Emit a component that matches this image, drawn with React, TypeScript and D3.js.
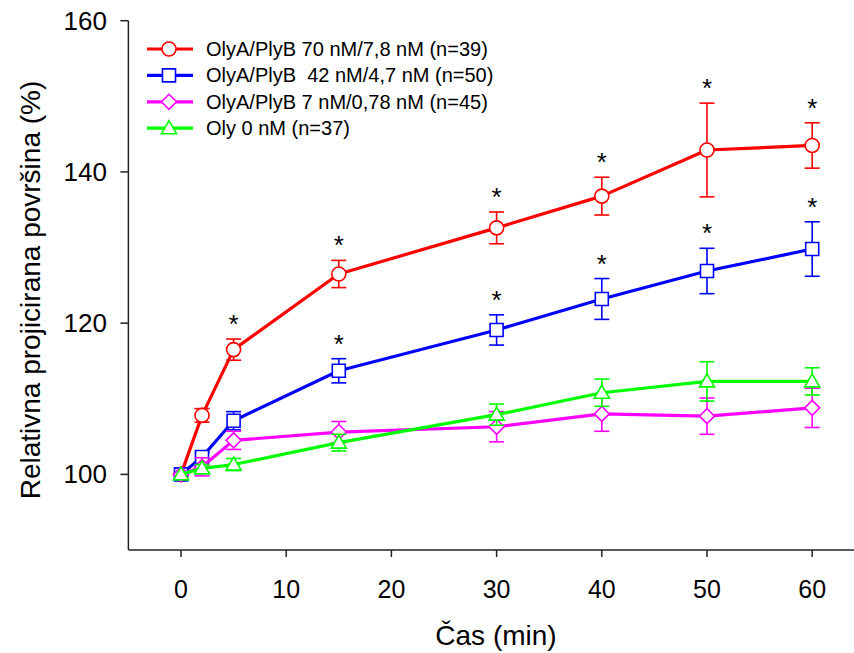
import React from "react";
import * as d3 from "d3";

const times = [0, 2, 5, 15, 30, 40, 50, 60];
const redVals = [100, 107.8, 116.5, 126.5, 132.6, 136.8, 142.9, 143.5];
const redErr = [0, 0.9, 1.4, 1.8, 2.1, 2.5, 6.2, 3.0];
const redSig = [0, 0, 1, 1, 1, 1, 1, 1];
const blueVals = [100, 102.3, 107.1, 113.7, 119.1, 123.2, 126.9, 129.8];
const blueErr = [0, 0.6, 1.2, 1.6, 2.0, 2.7, 3.0, 3.6];
const blueSig = [0, 0, 0, 1, 1, 1, 1, 1];
const magentaVals = [100, 101.0, 104.5, 105.6, 106.3, 108.0, 107.7, 108.8];
const magentaErr = [0, 1.2, 1.2, 1.4, 2.0, 2.3, 2.4, 2.6];
const magentaSig = [0, 0, 0, 0, 0, 0, 0, 0];
const greenVals = [100, 100.8, 101.3, 104.2, 107.9, 110.8, 112.3, 112.3];
const greenErr = [0, 0.5, 0.8, 1.1, 1.4, 1.8, 2.6, 1.8];
const greenSig = [0, 0, 0, 0, 0, 0, 0, 0];

const seriesNames = [
  "OlyA/PlyB 70 nM/7,8 nM (n=39)",
  "OlyA/PlyB  42 nM/4,7 nM (n=50)",
  "OlyA/PlyB 7 nM/0,78 nM (n=45)",
  "Oly 0 nM (n=37)",
];
const seriesColors = ["#ff0000", "#0000ff", "#ff00ff", "#00ff00"];
const seriesMarkers = ["circle", "square", "diamond", "triangle"];
const seriesValues = [redVals, blueVals, magentaVals, greenVals];
const seriesErrors = [redErr, blueErr, magentaErr, greenErr];
const seriesSig = [redSig, blueSig, magentaSig, greenSig];

const xTicks = [0, 10, 20, 30, 40, 50, 60];
const yTicks = [100, 120, 140, 160];
const xTitle = "Čas (min)";
const yTitle = "Relativna projicirana površina (%)";

const FONT = "Arial, 'Liberation Sans', sans-serif";

function markerPath(type: string): string {
  if (type === "circle") return d3.symbol(d3.symbolCircle, 154)() as string;
  if (type === "square") {
    const h = 6.5;
    return `M${-h},${-h}H${h}V${h}H${-h}Z`;
  }
  if (type === "diamond") {
    const h = 7.5;
    return `M0,${-h}L${h},0L0,${h}L${-h},0Z`;
  }
  // triangle
  return `M0,-7.5L7.5,5.5L-7.5,5.5Z`;
}

export default function App() {
  const W = 854;
  const H = 653;
  const x = d3.scaleLinear().domain([-5, 65]).range([128.4, 864.8]);
  const y = d3.scaleLinear().domain([90, 160]).range([550, 20.7]);
  const axisLeft = x(-5);
  const axisBottom = y(90);
  const line = d3
    .line<[number, number]>()
    .x((d) => x(d[0]))
    .y((d) => y(d[1]));

  return (
    <svg
      width={W}
      height={H}
      style={{ position: "absolute", left: 0, top: 0, background: "#fff" }}
      fontFamily={FONT}
    >
      <rect x={0} y={0} width={W} height={H} fill="#fff" />
      {/* axes */}
      <line x1={axisLeft} x2={axisLeft} y1={y(160)} y2={axisBottom} stroke="#222" strokeWidth={1.5} />
      <line x1={axisLeft} x2={W} y1={axisBottom} y2={axisBottom} stroke="#222" strokeWidth={1.5} />
      {yTicks.map((t) => (
        <g key={"yt" + t}>
          <line x1={axisLeft - 8} x2={axisLeft} y1={y(t)} y2={y(t)} stroke="#222" strokeWidth={1.5} />
          <text x={107} y={y(t) + 9} fontSize={26} textAnchor="end" fill="#000">
            {t}
          </text>
        </g>
      ))}
      {xTicks.map((t) => (
        <g key={"xt" + t}>
          <line x1={x(t)} x2={x(t)} y1={axisBottom} y2={axisBottom + 7} stroke="#222" strokeWidth={1.5} />
          <text x={x(t)} y={598} fontSize={25} textAnchor="middle" fill="#000">
            {t}
          </text>
        </g>
      ))}
      <text x={496} y={645} fontSize={28} textAnchor="middle" fill="#000">
        {xTitle}
      </text>
      <text
        transform={`translate(40, 290) rotate(-90)`}
        fontSize={28}
        textAnchor="middle"
        fill="#000"
      >
        {yTitle}
      </text>

      {/* series */}
      {seriesValues.map((vals, si) => {
        const color = seriesColors[si];
        const errs = seriesErrors[si];
        const pts: [number, number][] = times.map((t, i) => [t, vals[i]]);
        return (
          <g key={"s" + si}>
            {times.map((t, i) =>
              errs[i] > 0 ? (
                <g key={"e" + i} stroke={color} strokeWidth={1.6}>
                  <line x1={x(t)} x2={x(t)} y1={y(vals[i] + errs[i])} y2={y(vals[i] - errs[i])} />
                  <line x1={x(t) - 7.5} x2={x(t) + 7.5} y1={y(vals[i] + errs[i])} y2={y(vals[i] + errs[i])} />
                  <line x1={x(t) - 7.5} x2={x(t) + 7.5} y1={y(vals[i] - errs[i])} y2={y(vals[i] - errs[i])} />
                </g>
              ) : null
            )}
            <path d={line(pts) as string} fill="none" stroke={color} strokeWidth={3.2} strokeLinejoin="round" />
            {times.map((t, i) => (
              <path
                key={"m" + i}
                d={markerPath(seriesMarkers[si])}
                transform={`translate(${x(t)},${y(vals[i])})`}
                fill="#fff"
                stroke={color}
                strokeWidth={1.6}
              />
            ))}
            {times.map((t, i) =>
              seriesSig[si][i] ? (
                <text
                  key={"st" + i}
                  x={x(t)}
                  y={y(vals[i] + errs[i]) - 6}
                  fontSize={26}
                  textAnchor="middle"
                  fill="#000"
                >
                  *
                </text>
              ) : null
            )}
          </g>
        );
      })}

      {/* legend */}
      {seriesNames.map((name, i) => {
        const ly = 49 + i * 26.4;
        return (
          <g key={"lg" + i}>
            <line x1={147} x2={193} y1={ly} y2={ly} stroke={seriesColors[i]} strokeWidth={3.2} />
            <path
              d={markerPath(seriesMarkers[i])}
              transform={`translate(169,${ly})`}
              fill="#fff"
              stroke={seriesColors[i]}
              strokeWidth={1.6}
            />
            <text x={206} y={ly + 7} fontSize={20} fill="#000" style={{ whiteSpace: "pre" }}>
              {name}
            </text>
          </g>
        );
      })}
    </svg>
  );
}
